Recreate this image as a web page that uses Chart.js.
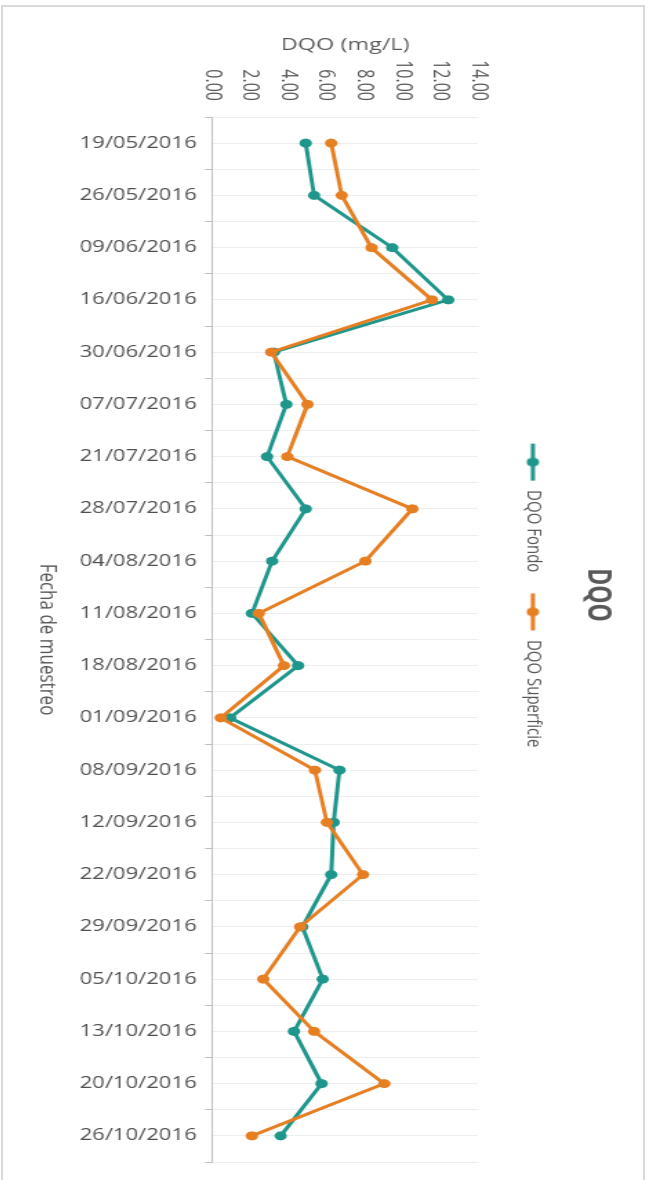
<!DOCTYPE html>
<html>
<head>
<meta charset="utf-8">
<script src="https://cdn.jsdelivr.net/npm/chart.js@4.4.0/dist/chart.umd.min.js"></script>
<style>
  html, body { margin: 0; padding: 0; background: #fff; }
  body { width: 649px; height: 1180px; overflow: hidden; position: relative; }
  .frame {
    position: absolute; left: 1px; top: 5px; width: 644px; height: 1200px;
    box-sizing: border-box; border: 2px solid #d9d9d9; border-bottom: none;
  }
  /* chart is laid out landscape, then turned a quarter clockwise and stretched across */
  .rotated {
    position: absolute; left: 0; top: 0; width: 1180px; height: 470px;
    transform-origin: 0 0;
    transform: translate(649px, 0) rotate(90deg) scale(1, 1.38);
  }
</style>
</head>
<body>
<div class="frame"></div>
<div class="rotated"><canvas id="dqoChart" width="1180" height="470"></canvas></div>
<script>
const fechas = [
  '19/05/2016', '26/05/2016', '09/06/2016', '16/06/2016', '30/06/2016',
  '07/07/2016', '21/07/2016', '28/07/2016', '04/08/2016', '11/08/2016',
  '18/08/2016', '01/09/2016', '08/09/2016', '12/09/2016', '22/09/2016',
  '29/09/2016', '05/10/2016', '13/10/2016', '20/10/2016', '26/10/2016'
];
const dqoFondo = [
  4.93, 5.37, 9.47, 12.41, 3.25,
  3.91, 2.90, 4.93, 3.16, 2.10,
  4.53, 0.95, 6.70, 6.40, 6.26,
  4.75, 5.82, 4.31, 5.76, 3.61
];
const dqoSuperficie = [
  6.26, 6.82, 8.38, 11.56, 3.11,
  5.02, 3.96, 10.53, 8.06, 2.46,
  3.78, 0.46, 5.41, 6.04, 7.94,
  4.63, 2.69, 5.37, 9.05, 2.10
];
const yMin = 0;
const yMax = 14;
const yStep = 2;

const TEAL = '#1f968b';
const ORANGE = '#e67e22';
const GREY_TEXT = '#595959';
const FONT = "'Open Sans', sans-serif";

// little line-with-dot swatch for the legend
function legendIcon(color) {
  const c = document.createElement('canvas');
  c.width = 40;
  c.height = 12;
  const g = c.getContext('2d');
  g.strokeStyle = color;
  g.lineWidth = 3;
  g.beginPath();
  g.moveTo(1, 6);
  g.lineTo(38, 6);
  g.stroke();
  g.fillStyle = color;
  g.beginPath();
  g.arc(19.5, 6, 4.5, 0, Math.PI * 2);
  g.fill();
  return c;
}
const icons = [legendIcon(TEAL), legendIcon(ORANGE)];

new Chart(document.getElementById('dqoChart'), {
  type: 'line',
  data: {
    labels: fechas,
    datasets: [
      {
        label: 'DQO Fondo',
        data: dqoFondo,
        borderColor: TEAL,
        backgroundColor: TEAL,
        pointBackgroundColor: TEAL,
        pointBorderWidth: 0,
        pointRadius: 4.5,
        borderWidth: 3,
        tension: 0,
        order: 1
      },
      {
        label: 'DQO Superficie',
        data: dqoSuperficie,
        borderColor: ORANGE,
        backgroundColor: ORANGE,
        pointBackgroundColor: ORANGE,
        pointBorderWidth: 0,
        pointRadius: 4.5,
        borderWidth: 3,
        tension: 0,
        order: 0
      }
    ]
  },
  options: {
    responsive: false,
    animation: false,
    layout: { padding: { left: 28, right: 18, top: 0, bottom: 0 } },
    plugins: {
      title: {
        display: true,
        text: 'DQO',
        color: GREY_TEXT,
        font: { family: FONT, size: 23, weight: 'bold' },
        padding: { top: 24, bottom: 5 }
      },
      legend: {
        position: 'top',
        labels: {
          usePointStyle: true,
          pointStyleWidth: 40,
          padding: 20,
          color: GREY_TEXT,
          font: { family: FONT, size: 15 },
          generateLabels: (chart) => {
            const items = Chart.defaults.plugins.legend.labels.generateLabels(chart);
            items.forEach(item => { item.pointStyle = icons[item.datasetIndex]; });
            return items.sort((a, b) => a.datasetIndex - b.datasetIndex);
          }
        }
      },
      tooltip: { enabled: false }
    },
    scales: {
      x: {
        type: 'category',
        position: 'bottom',
        offset: true,
        grid: {
          offset: true,
          color: '#eeeeee',
          tickColor: '#bfbfbf',
          tickLength: 5
        },
        border: { display: true, color: '#bfbfbf', width: 1 },
        ticks: {
          autoSkip: false,
          minRotation: 90,
          maxRotation: 90,
          padding: 6,
          color: '#505050',
          font: { family: FONT, size: 16 }
        },
        title: {
          display: true,
          text: 'Fecha de muestreo',
          color: GREY_TEXT,
          font: { family: FONT, size: 17 },
          padding: { top: 0, bottom: 24 }
        },
        afterFit: (scale) => { scale.height = 153.3; }
      },
      // second category axis: gridlines through each sampling date, also spaces the legend off the plot
      xg: {
        type: 'category',
        position: 'top',
        offset: true,
        grid: { offset: false, color: '#eeeeee', drawTicks: false },
        border: { display: false },
        ticks: { display: false },
        afterFit: (scale) => { scale.height = 22; }
      },
      y: {
        min: yMin,
        max: yMax,
        grid: { display: false, drawTicks: false },
        border: { display: false },
        ticks: {
          stepSize: yStep,
          padding: 16,
          color: GREY_TEXT,
          font: { family: FONT, size: 16 },
          callback: (v) => Number(v).toFixed(2)
        },
        title: {
          display: true,
          text: 'DQO (mg/L)',
          color: GREY_TEXT,
          font: { family: FONT, size: 17 },
          padding: { top: 7, bottom: 0 }
        },
        afterFit: (scale) => { scale.width = 89; }
      }
    }
  }
});
</script>
</body>
</html>
